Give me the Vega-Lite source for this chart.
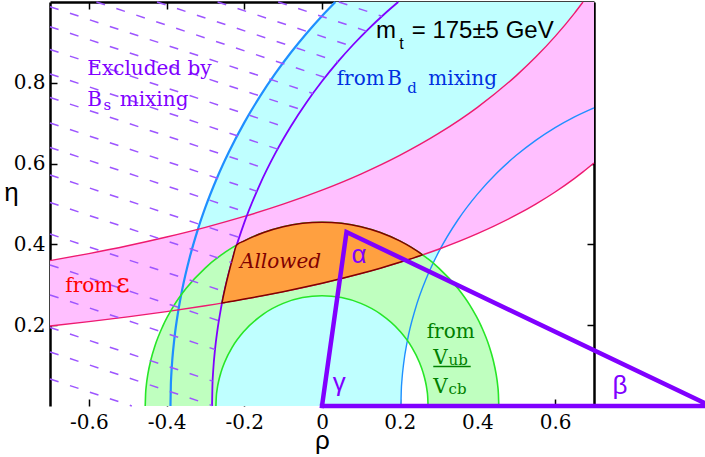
{
  "$schema": "https://vega.github.io/schema/vega-lite/v6.json",
  "width": 544,
  "height": 404,
  "autosize": "none",
  "padding": {"left": 50, "top": 2, "right": 111, "bottom": 51},
  "config": {
    "view": {"stroke": null},
    "axis": {
      "labelFont": "DejaVu Serif", "labelFontSize": 20, "labelColor": "black",
      "tickColor": "black", "tickWidth": 1.5, "tickSize": -7,
      "domainColor": "black", "domainWidth": 2.5, "grid": false, "zindex": 1,
      "titleFont": "Liberation Sans", "titleFontSize": 26, "titleFontWeight": "normal", "titleColor": "black"
    }
  },
  "datasets": {
    "bd": [
      {"r": -0.39, "lo": 0, "hi": 0}, {"r": -0.389, "lo": 0, "hi": 0.0527}, {"r": -0.388, "lo": 0, "hi": 0.0745},
      {"r": -0.385, "lo": 0, "hi": 0.1178}, {"r": -0.38, "lo": 0, "hi": 0.1664}, {"r": -0.37, "lo": 0, "hi": 0.2349},
      {"r": -0.36, "lo": 0, "hi": 0.2872}, {"r": -0.34, "lo": 0, "hi": 0.3695}, {"r": -0.32, "lo": 0, "hi": 0.4355},
      {"r": -0.3, "lo": 0, "hi": 0.492}, {"r": -0.27, "lo": 0, "hi": 0.565}, {"r": -0.24, "lo": 0, "hi": 0.6281},
      {"r": -0.2, "lo": 0, "hi": 0.7015}, {"r": -0.16, "lo": 0, "hi": 0.7658}, {"r": -0.12, "lo": 0, "hi": 0.8232},
      {"r": -0.08, "lo": 0, "hi": 0.875}, {"r": -0.04, "lo": 0, "hi": 0.9222}, {"r": 0, "lo": 0, "hi": 0.9655},
      {"r": 0.0345, "lo": 0, "hi": 1}, {"r": 0.203, "lo": 0, "hi": 1}, {"r": 0.204, "lo": 0.0372, "hi": 1},
      {"r": 0.206, "lo": 0.0676, "hi": 1}, {"r": 0.21, "lo": 0.1044, "hi": 1}, {"r": 0.22, "lo": 0.1631, "hi": 1},
      {"r": 0.24, "lo": 0.2396, "hi": 1}, {"r": 0.27, "lo": 0.3195, "hi": 1}, {"r": 0.3, "lo": 0.3808, "hi": 1},
      {"r": 0.35, "lo": 0.461, "hi": 1}, {"r": 0.4, "lo": 0.5244, "hi": 1}, {"r": 0.45, "lo": 0.5766, "hi": 1},
      {"r": 0.5, "lo": 0.6205, "hi": 1}, {"r": 0.55, "lo": 0.6576, "hi": 1}, {"r": 0.6, "lo": 0.6892, "hi": 1},
      {"r": 0.65, "lo": 0.7159, "hi": 1}, {"r": 0.7, "lo": 0.7382, "hi": 1}
    ],
    "eps": [
      {"r": -0.7, "lo": 0.198, "hi": 0.3597}, {"r": -0.6, "lo": 0.2088, "hi": 0.3773}, {"r": -0.5, "lo": 0.2206, "hi": 0.3967},
      {"r": -0.4, "lo": 0.2337, "hi": 0.4183}, {"r": -0.3, "lo": 0.2483, "hi": 0.4423}, {"r": -0.2, "lo": 0.2646, "hi": 0.4692},
      {"r": -0.1, "lo": 0.283, "hi": 0.4996}, {"r": 0, "lo": 0.3039, "hi": 0.5343}, {"r": 0.1, "lo": 0.3279, "hi": 0.5741},
      {"r": 0.2, "lo": 0.3556, "hi": 0.6203}, {"r": 0.3, "lo": 0.388, "hi": 0.6746}, {"r": 0.4, "lo": 0.4265, "hi": 0.7393},
      {"r": 0.5, "lo": 0.4728, "hi": 0.8178}, {"r": 0.55, "lo": 0.4998, "hi": 0.8636}, {"r": 0.6, "lo": 0.5298, "hi": 0.9149},
      {"r": 0.65, "lo": 0.5635, "hi": 0.9726}, {"r": 0.6717, "lo": 0.5794, "hi": 1}, {"r": 0.7, "lo": 0.6015, "hi": 1}
    ],
    "vub": [
      {"r": -0.455, "lo": 0, "hi": 0}, {"r": -0.454, "lo": 0, "hi": 0.0297}, {"r": -0.452, "lo": 0, "hi": 0.0519},
      {"r": -0.448, "lo": 0, "hi": 0.0793}, {"r": -0.44, "lo": 0, "hi": 0.1158}, {"r": -0.43, "lo": 0, "hi": 0.1487},
      {"r": -0.41, "lo": 0, "hi": 0.1972}, {"r": -0.38, "lo": 0, "hi": 0.2502}, {"r": -0.35, "lo": 0, "hi": 0.2907},
      {"r": -0.3, "lo": 0, "hi": 0.3421}, {"r": -0.273, "lo": 0, "hi": 0.364}, {"r": -0.272, "lo": 0.0234, "hi": 0.3647},
      {"r": -0.27, "lo": 0.0404, "hi": 0.3662}, {"r": -0.265, "lo": 0.0656, "hi": 0.3698}, {"r": -0.26, "lo": 0.0832, "hi": 0.3734},
      {"r": -0.25, "lo": 0.1097, "hi": 0.3801}, {"r": -0.23, "lo": 0.1471, "hi": 0.3926}, {"r": -0.2, "lo": 0.1858, "hi": 0.4087},
      {"r": -0.15, "lo": 0.2281, "hi": 0.4295}, {"r": -0.1, "lo": 0.254, "hi": 0.4438}, {"r": -0.05, "lo": 0.2684, "hi": 0.4522},
      {"r": 0, "lo": 0.273, "hi": 0.455},
      {"r": 0.05, "lo": 0.2684, "hi": 0.4522}, {"r": 0.1, "lo": 0.254, "hi": 0.4438}, {"r": 0.15, "lo": 0.2281, "hi": 0.4295},
      {"r": 0.2, "lo": 0.1858, "hi": 0.4087}, {"r": 0.23, "lo": 0.1471, "hi": 0.3926}, {"r": 0.25, "lo": 0.1097, "hi": 0.3801},
      {"r": 0.26, "lo": 0.0832, "hi": 0.3734}, {"r": 0.265, "lo": 0.0656, "hi": 0.3698}, {"r": 0.27, "lo": 0.0404, "hi": 0.3662},
      {"r": 0.272, "lo": 0.0234, "hi": 0.3647}, {"r": 0.273, "lo": 0, "hi": 0.364}, {"r": 0.3, "lo": 0, "hi": 0.3421},
      {"r": 0.35, "lo": 0, "hi": 0.2907}, {"r": 0.38, "lo": 0, "hi": 0.2502}, {"r": 0.41, "lo": 0, "hi": 0.1972},
      {"r": 0.43, "lo": 0, "hi": 0.1487}, {"r": 0.44, "lo": 0, "hi": 0.1158}, {"r": 0.448, "lo": 0, "hi": 0.0793},
      {"r": 0.452, "lo": 0, "hi": 0.0519}, {"r": 0.454, "lo": 0, "hi": 0.0297}, {"r": 0.455, "lo": 0, "hi": 0}
    ],
    "bs": [
      {"r": -0.283, "e": 0}, {"r": -0.282, "e": 0.0498}, {"r": -0.28, "e": 0.0872}, {"r": -0.275, "e": 0.1427},
      {"r": -0.27, "e": 0.1819}, {"r": -0.26, "e": 0.2417}, {"r": -0.25, "e": 0.289}, {"r": -0.23, "e": 0.3648},
      {"r": -0.2, "e": 0.4539}, {"r": -0.16, "e": 0.5481}, {"r": -0.12, "e": 0.6258}, {"r": -0.08, "e": 0.6925},
      {"r": -0.04, "e": 0.7513}, {"r": 0, "e": 0.8037}, {"r": 0.04, "e": 0.8511}, {"r": 0.08, "e": 0.8942},
      {"r": 0.12, "e": 0.9336}, {"r": 0.16, "e": 0.9697}, {"r": 0.1963, "e": 1}
    ],
    "allowed": [
      {"r": -0.2574, "lo": 0.2551, "hi": 0.2551}, {"r": -0.257, "lo": 0.2551, "hi": 0.2568}, {"r": -0.255, "lo": 0.2554, "hi": 0.2665},
      {"r": -0.25, "lo": 0.2562, "hi": 0.289}, {"r": -0.24, "lo": 0.2579, "hi": 0.3292}, {"r": -0.23, "lo": 0.2595, "hi": 0.3648},
      {"r": -0.2195, "lo": 0.2613, "hi": 0.3985}, {"r": -0.2, "lo": 0.2646, "hi": 0.4087}, {"r": -0.15, "lo": 0.2736, "hi": 0.4295},
      {"r": -0.1, "lo": 0.283, "hi": 0.4438}, {"r": -0.05, "lo": 0.2932, "hi": 0.4522}, {"r": 0, "lo": 0.3039, "hi": 0.455},
      {"r": 0.05, "lo": 0.3155, "hi": 0.4522}, {"r": 0.1, "lo": 0.3279, "hi": 0.4438}, {"r": 0.15, "lo": 0.3412, "hi": 0.4295},
      {"r": 0.2, "lo": 0.3556, "hi": 0.4087}, {"r": 0.23, "lo": 0.3648, "hi": 0.3926}, {"r": 0.25, "lo": 0.3711, "hi": 0.3801},
      {"r": 0.258, "lo": 0.374, "hi": 0.374}
    ],
    "hatch": [
      {"r": 0.0432, "e": 1, "r2": 0.1543, "e2": 0.9647}, {"r": -0.1127, "e": 1, "r2": 0.1141, "e2": 0.928},
      {"r": -0.2687, "e": 1, "r2": 0.0764, "e2": 0.8905}, {"r": -0.4246, "e": 1, "r2": 0.041, "e2": 0.8522},
      {"r": -0.5806, "e": 1, "r2": 0.0077, "e2": 0.8133}, {"r": -0.7, "e": 0.9884, "r2": -0.0235, "e2": 0.7737},
      {"r": -0.7, "e": 0.9389, "r2": -0.0527, "e2": 0.7334}, {"r": -0.7, "e": 0.8824, "r2": -0.0837, "e2": 0.6868},
      {"r": -0.7, "e": 0.8218, "r2": -0.1143, "e2": 0.6359}, {"r": -0.7, "e": 0.7636, "r2": -0.1412, "e2": 0.5862},
      {"r": -0.7, "e": 0.7005, "r2": -0.1677, "e2": 0.5315}, {"r": -0.7, "e": 0.6399, "r2": -0.1905, "e2": 0.4782},
      {"r": -0.7, "e": 0.5718, "r2": -0.2132, "e2": 0.4173}, {"r": -0.7, "e": 0.5037, "r2": -0.2328, "e2": 0.3554},
      {"r": -0.7, "e": 0.4257, "r2": -0.2513, "e2": 0.2833}, {"r": -0.7, "e": 0.349, "r2": -0.2655, "e2": 0.2111},
      {"r": -0.7, "e": 0.2748, "r2": -0.2753, "e2": 0.14}, {"r": -0.7, "e": 0.1943, "r2": -0.2815, "e2": 0.0615},
      {"r": -0.7, "e": 0.1337, "r2": -0.283, "e2": 0.0013}, {"r": -0.7, "e": 0.0668, "r2": -0.4895, "e2": 0}
    ],
    "tri": [
      {"r": 0, "e": 0, "o": 1}, {"r": 0.0631, "e": 0.4307, "o": 2}, {"r": 1, "e": 0, "o": 3}, {"r": 0, "e": 0, "o": 4}
    ]
  },
  "layer": [
    {
      "data": {"name": "bd"},
      "mark": {"type": "area", "color": "#bfffff", "interpolate": "monotone"},
      "encoding": {
        "x": {"field": "r", "type": "quantitative", "scale": {"domain": [-0.7, 0.7], "nice": false, "zero": false},
              "axis": {"orient": "bottom", "values": [-0.6, -0.4, -0.2, 0, 0.2, 0.4, 0.6], "labelExpr": "'' + datum.value",
                       "domain": false, "title": "ρ", "titleY": 42, "titleBaseline": "alphabetic", "labelPadding": 13.5, "labelBaseline": "top"}},
        "y": {"field": "lo", "type": "quantitative", "scale": {"domain": [0, 1], "nice": false, "zero": false},
              "axis": {"orient": "left", "values": [0.2, 0.4, 0.6, 0.8], "labelExpr": "'' + datum.value",
                       "title": "η", "titleAngle": 0, "titleX": -39, "titleY": 198.5, "titleAlign": "center", "titleBaseline": "alphabetic",
                       "labelPadding": 12, "labelBaseline": "middle"}},
        "y2": {"field": "hi"}
      }
    },
    {
      "data": {"name": "eps"},
      "mark": {"type": "area", "color": "#ffbfff", "interpolate": "monotone"},
      "encoding": {
        "x": {"field": "r", "type": "quantitative",
              "axis": {"orient": "top", "values": [-0.6, -0.4, -0.2, 0, 0.2, 0.4, 0.6], "labels": false, "title": null}},
        "y": {"field": "lo", "type": "quantitative",
              "axis": {"orient": "right", "values": [0.2, 0.4, 0.6, 0.8], "labels": false, "title": null}},
        "y2": {"field": "hi"}
      }
    },
    {
      "data": {"name": "vub"},
      "mark": {"type": "area", "color": "#bfffbf", "interpolate": "monotone"},
      "encoding": {
        "x": {"field": "r", "type": "quantitative", "axis": null},
        "y": {"field": "lo", "type": "quantitative", "axis": null},
        "y2": {"field": "hi"}
      }
    },
    {
      "data": {"name": "bd"},
      "transform": [{"filter": "datum.r <= 0.0345"}],
      "mark": {"type": "line", "color": "#1f8fff", "strokeWidth": 2.2, "interpolate": "monotone"},
      "encoding": {
        "x": {"field": "r", "type": "quantitative", "axis": null},
        "y": {"field": "hi", "type": "quantitative", "axis": null}
      }
    },
    {
      "data": {"name": "bd"},
      "transform": [{"filter": "datum.r >= 0.203"}],
      "mark": {"type": "line", "color": "#1f8fff", "strokeWidth": 1.4, "interpolate": "monotone"},
      "encoding": {
        "x": {"field": "r", "type": "quantitative", "axis": null},
        "y": {"field": "lo", "type": "quantitative", "axis": null}
      }
    },
    {
      "data": {"name": "eps"},
      "mark": {"type": "line", "color": "#ee1a70", "strokeWidth": 1.4, "interpolate": "monotone"},
      "encoding": {
        "x": {"field": "r", "type": "quantitative", "axis": null},
        "y": {"field": "lo", "type": "quantitative", "axis": null}
      }
    },
    {
      "data": {"name": "eps"},
      "transform": [{"filter": "datum.r <= 0.6717"}],
      "mark": {"type": "line", "color": "#ee1a70", "strokeWidth": 1.4, "interpolate": "monotone"},
      "encoding": {
        "x": {"field": "r", "type": "quantitative", "axis": null},
        "y": {"field": "hi", "type": "quantitative", "axis": null}
      }
    },
    {
      "data": {"name": "vub"},
      "mark": {"type": "line", "color": "#27e627", "strokeWidth": 1.6, "interpolate": "monotone"},
      "encoding": {
        "x": {"field": "r", "type": "quantitative", "axis": null},
        "y": {"field": "hi", "type": "quantitative", "axis": null}
      }
    },
    {
      "data": {"name": "vub"},
      "transform": [{"filter": "abs(datum.r) <= 0.273"}],
      "mark": {"type": "line", "color": "#27e627", "strokeWidth": 1.6, "interpolate": "monotone"},
      "encoding": {
        "x": {"field": "r", "type": "quantitative", "axis": null},
        "y": {"field": "lo", "type": "quantitative", "axis": null}
      }
    },
    {
      "data": {"name": "bs"},
      "mark": {"type": "line", "color": "#7f00ff", "strokeWidth": 1.8, "interpolate": "monotone"},
      "encoding": {
        "x": {"field": "r", "type": "quantitative", "axis": null},
        "y": {"field": "e", "type": "quantitative", "axis": null}
      }
    },
    {
      "data": {"name": "allowed"},
      "mark": {"type": "area", "color": "#ffa040", "stroke": "#800000", "strokeWidth": 1.5, "interpolate": "monotone"},
      "encoding": {
        "x": {"field": "r", "type": "quantitative", "axis": null},
        "y": {"field": "lo", "type": "quantitative", "axis": null},
        "y2": {"field": "hi"}
      }
    },
    {
      "data": {"name": "hatch"},
      "mark": {"type": "rule", "color": "#9d55ff", "strokeWidth": 1.5, "strokeDash": [9, 12]},
      "encoding": {
        "x": {"field": "r", "type": "quantitative", "axis": null},
        "y": {"field": "e", "type": "quantitative", "axis": null},
        "x2": {"field": "r2"},
        "y2": {"field": "e2"}
      }
    },
    {
      "mark": {"type": "rule", "color": "black", "strokeWidth": 2.5},
      "encoding": {
        "x": {"datum": -0.7, "type": "quantitative", "axis": null},
        "x2": {"datum": 0.7},
        "y": {"datum": 0, "type": "quantitative", "axis": null}
      }
    },
    {
      "data": {"name": "tri"},
      "mark": {"type": "line", "color": "#8000ff", "strokeWidth": 4.5, "strokeJoin": "miter", "strokeCap": "square"},
      "encoding": {
        "x": {"field": "r", "type": "quantitative", "axis": null},
        "y": {"field": "e", "type": "quantitative", "axis": null},
        "order": {"field": "o"}
      }
    },
    {
      "data": {"values": [{"r": 0.2864, "r2": 0.3827, "e": 0.0978}]},
      "mark": {"type": "rule", "color": "#008000", "strokeWidth": 1.5},
      "encoding": {
        "x": {"field": "r", "type": "quantitative", "axis": null},
        "x2": {"field": "r2"},
        "y": {"field": "e", "type": "quantitative", "axis": null}
      }
    },
    {
      "data": {"values": [
        {"r": -0.604, "e": 0.8193, "t": "Excluded by"}, {"r": -0.604, "e": 0.7426, "t": "B"}, {"r": -0.5206, "e": 0.7426, "t": "mixing"}
      ]},
      "mark": {"type": "text", "align": "left", "baseline": "alphabetic", "font": "DejaVu Serif", "fontSize": 20, "color": "#8000ff"},
      "encoding": {
        "x": {"field": "r", "type": "quantitative", "axis": null},
        "y": {"field": "e", "type": "quantitative", "axis": null},
        "text": {"field": "t"}
      }
    },
    {
      "data": {"values": [{"r": -0.5623, "e": 0.7327, "t": "s"}]},
      "mark": {"type": "text", "align": "left", "baseline": "alphabetic", "font": "DejaVu Serif", "fontSize": 15, "color": "#8000ff"},
      "encoding": {
        "x": {"field": "r", "type": "quantitative", "axis": null},
        "y": {"field": "e", "type": "quantitative", "axis": null},
        "text": {"field": "t"}
      }
    },
    {
      "data": {"values": [
        {"r": 0.0378, "e": 0.7946, "t": "from"}, {"r": 0.1681, "e": 0.7946, "t": "B"}, {"r": 0.2736, "e": 0.7946, "t": "mixing"}
      ]},
      "mark": {"type": "text", "align": "left", "baseline": "alphabetic", "font": "DejaVu Serif", "fontSize": 20, "color": "#0030e0"},
      "encoding": {
        "x": {"field": "r", "type": "quantitative", "axis": null},
        "y": {"field": "e", "type": "quantitative", "axis": null},
        "text": {"field": "t"}
      }
    },
    {
      "data": {"values": [{"r": 0.2195, "e": 0.7748, "t": "d"}]},
      "mark": {"type": "text", "align": "left", "baseline": "alphabetic", "font": "DejaVu Serif", "fontSize": 15, "color": "#0030e0"},
      "encoding": {
        "x": {"field": "r", "type": "quantitative", "axis": null},
        "y": {"field": "e", "type": "quantitative", "axis": null},
        "text": {"field": "t"}
      }
    },
    {
      "data": {"values": [{"r": 0.139, "e": 0.9101, "t": "m"}, {"r": 0.2309, "e": 0.9101, "t": "= 175±5 GeV"}]},
      "mark": {"type": "text", "align": "left", "baseline": "alphabetic", "font": "Liberation Sans", "fontSize": 24, "color": "black"},
      "encoding": {
        "x": {"field": "r", "type": "quantitative", "axis": null},
        "y": {"field": "e", "type": "quantitative", "axis": null},
        "text": {"field": "t"}
      }
    },
    {
      "data": {"values": [{"r": 0.1989, "e": 0.8829, "t": "t"}]},
      "mark": {"type": "text", "align": "left", "baseline": "alphabetic", "font": "Liberation Sans", "fontSize": 16, "color": "black"},
      "encoding": {
        "x": {"field": "r", "type": "quantitative", "axis": null},
        "y": {"field": "e", "type": "quantitative", "axis": null},
        "text": {"field": "t"}
      }
    },
    {
      "data": {"values": [{"r": -0.6606, "e": 0.2829, "t": "from"}]},
      "mark": {"type": "text", "align": "left", "baseline": "alphabetic", "font": "DejaVu Serif", "fontSize": 20, "color": "#ff0000"},
      "encoding": {
        "x": {"field": "r", "type": "quantitative", "axis": null},
        "y": {"field": "e", "type": "quantitative", "axis": null},
        "text": {"field": "t"}
      }
    },
    {
      "data": {"values": [{"r": -0.5294, "e": 0.2829, "t": "ε"}]},
      "mark": {"type": "text", "align": "left", "baseline": "alphabetic", "font": "DejaVu Serif", "fontSize": 26, "color": "#ff0000"},
      "encoding": {
        "x": {"field": "r", "type": "quantitative", "axis": null},
        "y": {"field": "e", "type": "quantitative", "axis": null},
        "text": {"field": "t"}
      }
    },
    {
      "data": {"values": [{"r": -0.211, "e": 0.3408, "t": "Allowed"}]},
      "mark": {"type": "text", "align": "left", "baseline": "alphabetic", "font": "DejaVu Serif", "fontStyle": "italic", "fontSize": 20, "color": "#800000"},
      "encoding": {
        "x": {"field": "r", "type": "quantitative", "axis": null},
        "y": {"field": "e", "type": "quantitative", "axis": null},
        "text": {"field": "t"}
      }
    },
    {
      "data": {"values": [
        {"r": 0.2695, "e": 0.1676, "t": "from"}, {"r": 0.2864, "e": 0.104, "t": "V"}, {"r": 0.2864, "e": 0.0329, "t": "V"}
      ]},
      "mark": {"type": "text", "align": "left", "baseline": "alphabetic", "font": "DejaVu Serif", "fontSize": 20, "color": "#008000"},
      "encoding": {
        "x": {"field": "r", "type": "quantitative", "axis": null},
        "y": {"field": "e", "type": "quantitative", "axis": null},
        "text": {"field": "t"}
      }
    },
    {
      "data": {"values": [{"r": 0.3255, "e": 0.1015, "t": "ub"}, {"r": 0.3255, "e": 0.0297, "t": "cb"}]},
      "mark": {"type": "text", "align": "left", "baseline": "alphabetic", "font": "DejaVu Serif", "fontSize": 15, "color": "#008000"},
      "encoding": {
        "x": {"field": "r", "type": "quantitative", "axis": null},
        "y": {"field": "e", "type": "quantitative", "axis": null},
        "text": {"field": "t"}
      }
    },
    {
      "data": {"values": [
        {"r": 0.0952, "e": 0.3532, "t": "α"}, {"r": 0.0443, "e": 0.0371, "t": "γ"}, {"r": 0.7669, "e": 0.0297, "t": "β"}
      ]},
      "mark": {"type": "text", "align": "center", "baseline": "alphabetic", "font": "Liberation Sans", "fontSize": 26, "color": "#8000ff"},
      "encoding": {
        "x": {"field": "r", "type": "quantitative", "axis": null},
        "y": {"field": "e", "type": "quantitative", "axis": null},
        "text": {"field": "t"}
      }
    }
  ],
  "resolve": {"axis": {"x": "independent", "y": "independent"}}
}
